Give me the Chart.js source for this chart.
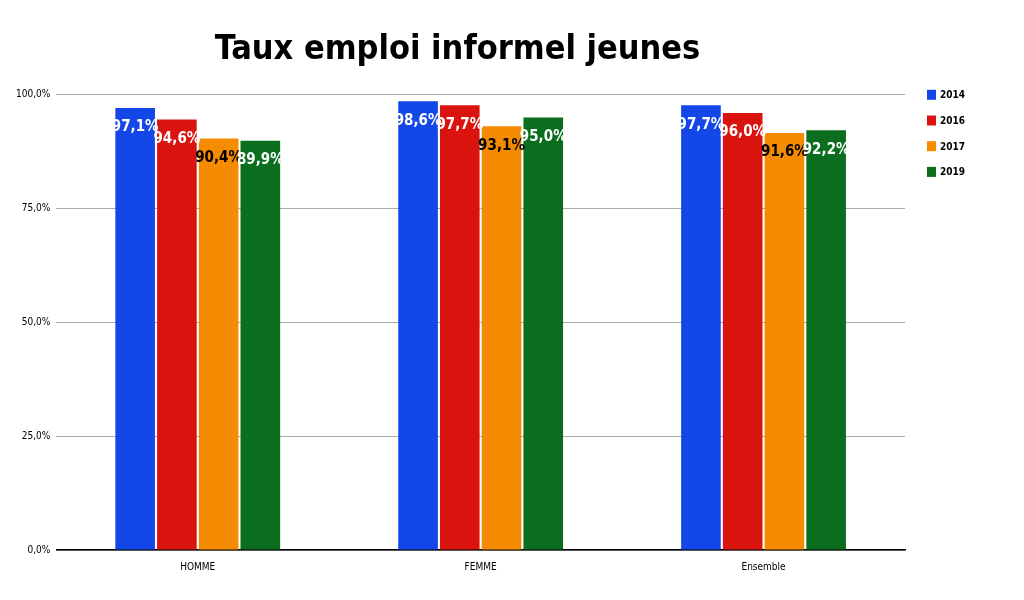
<!DOCTYPE html>
<html>
<head>
<meta charset="utf-8">
<script src="https://cdn.jsdelivr.net/npm/chart.js@4"></script>
<style>
  body { margin: 0; background: #fff; }
  #wrap { width: 1024px; height: 600px; }
</style>
</head>
<body>
<div id="wrap"><canvas id="chart"></canvas></div>
<script>
const categories = ['HOMME', 'FEMME', 'Ensemble'];
const years = ['2014', '2016', '2017', '2019'];
const values2014 = [97.1, 98.6, 97.7];
const values2016 = [94.6, 97.7, 96.0];
const values2017 = [90.4, 93.1, 91.6];
const values2019 = [89.9, 95.0, 92.2];
const yTicks = [0, 25, 50, 75, 100];

const colors = ['#1347e8', '#d9140e', '#f58b00', '#0b6e1f'];
const labelColors = ['#ffffff', '#ffffff', '#000000', '#ffffff'];
const narrow = '"DejaVu Sans Condensed", "Liberation Sans Narrow", sans-serif';

const fmt = v => v.toFixed(1).replace('.', ',') + '%';

// Value labels inside bar tops, plus a legend placed beside the plot top
const barLabels = {
    id: 'barLabels',
    afterDatasetsDraw(chart) {
        const ctx = chart.ctx;
        ctx.save();
        ctx.font = 'bold 15px ' + narrow;
        ctx.textAlign = 'center';
        ctx.textBaseline = 'top';
        chart.data.datasets.forEach((ds, i) => {
            chart.getDatasetMeta(i).data.forEach((bar, j) => {
                ctx.fillStyle = labelColors[i];
                ctx.fillText(fmt(ds.data[j]), bar.x, bar.y + 12);
            });
        });
        const lx = chart.chartArea.right + 22;
        ctx.font = 'bold 10px ' + narrow;
        ctx.textAlign = 'left';
        ctx.textBaseline = 'middle';
        chart.data.datasets.forEach((ds, i) => {
            const y = chart.chartArea.top + i * 25.7;
            ctx.fillStyle = colors[i];
            ctx.fillRect(lx, y - 5, 9, 10);
            ctx.fillStyle = '#000';
            ctx.fillText(ds.label, lx + 13, y + 1);
        });
        ctx.restore();
    }
};

new Chart(document.getElementById('chart'), {
    type: 'bar',
    data: {
        labels: categories,
        datasets: [values2014, values2016, values2017, values2019].map((d, i) => ({
            label: years[i],
            data: d,
            backgroundColor: colors[i],
            barPercentage: 0.95,
            categoryPercentage: 0.59
        }))
    },
    options: {
        responsive: true,
        maintainAspectRatio: false,
        animation: false,
        layout: { padding: { left: 10, right: 119, bottom: 24, top: 12 } },
        scales: {
            x: {
                grid: { display: false },
                border: { color: '#000', width: 1.5 },
                ticks: { color: '#000', font: { family: narrow, size: 10 } }
            },
            y: {
                min: 0,
                max: 100,
                afterBuildTicks: axis => { axis.ticks = yTicks.map(v => ({ value: v })); },
                grid: { color: '#aaaaaa', drawTicks: false },
                border: { display: false },
                ticks: {
                    color: '#000',
                    padding: 6,
                    font: { family: narrow, size: 10 },
                    callback: v => fmt(v)
                }
            }
        },
        plugins: {
            title: {
                display: true,
                text: 'Taux emploi informel jeunes',
                color: '#000',
                font: { family: narrow, size: 34, weight: 'bold' },
                padding: { top: 18, bottom: 24 }
            },
            legend: { display: false },
            tooltip: { enabled: false }
        }
    },
    plugins: [barLabels]
});
</script>
</body>
</html>
